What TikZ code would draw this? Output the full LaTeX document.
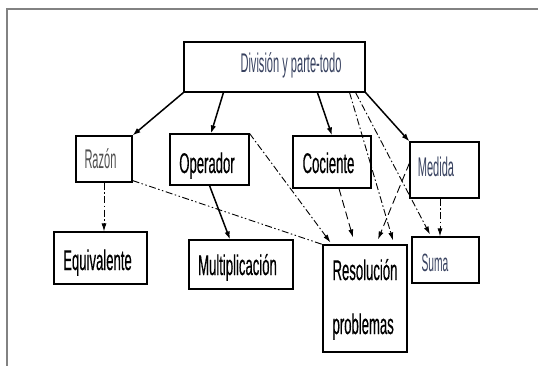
\documentclass[tikz,border=0pt]{standalone}
\usepackage{fontspec}
\newfontfamily\fA[FakeStretch=0.46,FakeBold=0.35]{Liberation Sans}
\newfontfamily\fB[FakeStretch=0.41]{Liberation Sans}
\usetikzlibrary{arrows.meta}
\definecolor{framec}{RGB}{130,130,130}
\definecolor{tgray}{RGB}{80,80,80}
\definecolor{tblue}{RGB}{55,65,95}
\tikzset{
  box/.style={draw, line width=1.1pt, inner sep=0pt, rectangle},
  bigt/.style={font=\fA\fontsize{28.5}{30}\selectfont, text=black},
  smt/.style={font=\fB\fontsize{27}{30}\selectfont},
  solidarr/.style={line width=1.5pt, -{Latex[length=8pt,width=5.5pt]}},
  dasharr/.style={line width=0.9pt, dash pattern=on 7pt off 2.5pt on 1.5pt off 2.5pt, -{Latex[length=8pt,width=5pt]}},
  dashline/.style={line width=0.9pt, dash pattern=on 7pt off 2.5pt on 1.5pt off 2.5pt on 1.5pt off 2.5pt},
  dashedarr/.style={line width=0.9pt, dash pattern=on 8pt off 4pt, -{Latex[length=8pt,width=5pt]}},
}
\begin{document}
\begin{tikzpicture}[x=1pt,y=-1pt]
\useasboundingbox (0,0) rectangle (538,366);
% frame
\draw[framec, line width=1.5pt] (540,9) -- (7,9) -- (7,368);

% nodes
\node[box, smt, text=tblue, minimum width=181pt, minimum height=50pt, text height=12pt, text depth=0pt] (top) at (274.5,67) {\hspace*{33pt}División y parte-todo};
\node[box, smt, text=tgray, minimum width=56pt, minimum height=46pt, text height=20pt, text depth=0pt] (raz) at (104,159) {Razón\hspace*{7pt}};
\node[box, bigt, minimum width=79pt, minimum height=51pt, text height=27pt, text depth=0pt] (op) at (209.5,159.5) {Operador\hspace*{5pt}};
\node[box, bigt, minimum width=78pt, minimum height=52pt, text height=22pt, text depth=0pt] (coc) at (332,162) {Cociente\hspace*{7pt}};
\node[box, smt, text=tblue, minimum width=69pt, minimum height=56pt, text height=14pt, text depth=0pt] (med) at (444.5,170) {Medida\hspace*{17pt}};
\node[box, bigt, minimum width=93pt, minimum height=52pt, text height=24pt, text depth=0pt] (eq) at (100.5,258) {Equivalente\hspace*{6pt}};
\node[box, bigt, minimum width=104pt, minimum height=49pt, text height=21pt, text depth=0pt] (mul) at (241,264.5) {Multiplicación\hspace*{7pt}};
\node[box, bigt, minimum width=84pt, minimum height=107pt, text height=0pt, text depth=37pt] (res) at (365,298.5) {\begin{tabular}[t]{@{}l@{}}Resolución\\[24pt]problemas\end{tabular}};
\node[box, font=\fB\fontsize{25}{28}\selectfont, text=tblue, minimum width=67pt, minimum height=46pt, text height=22pt, text depth=0pt] (suma) at (445.5,260) {Suma\hspace*{21pt}};

% solid connectors from the top node
\draw[solidarr] (top.south west) -- (raz.north east);
\draw[solidarr] ([xshift=40pt]top.south west) -- ([xshift=1.5pt]op.north);
\draw[solidarr] ([xshift=134pt]top.south west) -- (coc.north);
\draw[solidarr] (top.south east) -- (med.north west);
\draw[solidarr] (op.south) -- ([xshift=-11pt]mul.north);

% dash-dot connectors
\draw[dasharr] ([xshift=-16pt]top.south east) -- ([xshift=28pt,yshift=4pt]res.north);
\draw[dasharr] ([xshift=-10pt]top.south east) -- ([xshift=-15.5pt,yshift=2pt]suma.north);
\draw[dasharr] ([xshift=-4.5pt]med.south) -- ([xshift=-5.5pt]suma.north);
\draw[dasharr] (op.north east) -- ([xshift=8pt,yshift=2pt]res.north west);
\draw[dashline] ([yshift=2pt]raz.south east) -- (res.north west);
\draw[dasharr] (raz.south) -- ([xshift=3.5pt]eq.north);

% dashed connectors
\draw[dashedarr] ([xshift=7pt]coc.south) -- ([xshift=-12pt,yshift=7pt]res.north);
\draw[dashedarr] ([yshift=7pt]med.west) -- ([xshift=13pt,yshift=5pt]res.north);
\end{tikzpicture}
\end{document}
